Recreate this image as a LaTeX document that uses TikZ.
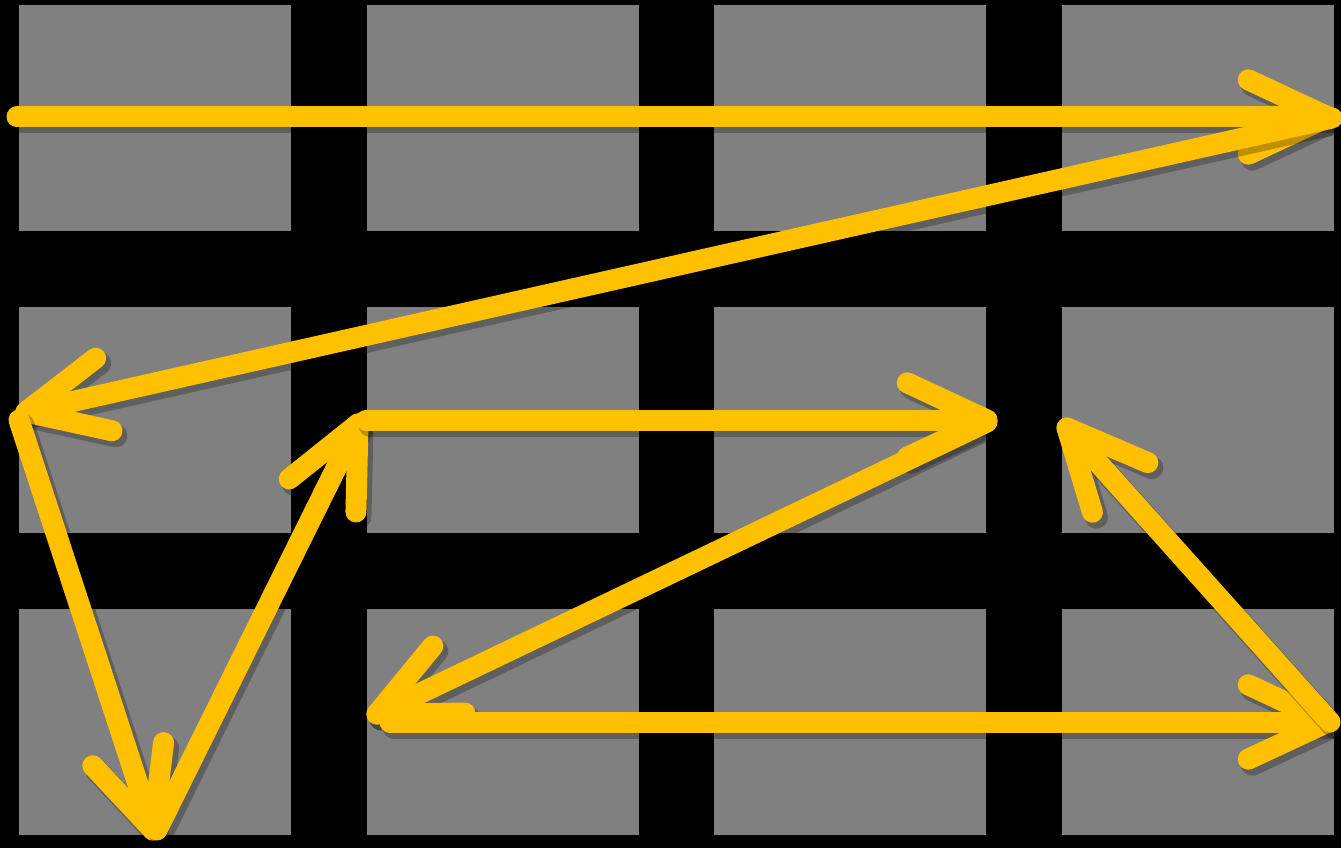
\documentclass[tikz,border=0pt]{standalone}
\usetikzlibrary{calc}
\definecolor{arrowyellow}{RGB}{255,192,0}
\definecolor{tilegray}{RGB}{128,128,128}
\tikzset{
  tile/.style={fill=tilegray, draw=none},
  arr/.style={draw=arrowyellow, line width=21pt, line cap=round, line join=round},
  shd/.style={draw=black, line width=23pt, line cap=round, line join=round, opacity=0.25,
              transform canvas={xshift=4pt, yshift=-5pt}},
}
\newcommand{\yarrow}[2]{%
  \draw[shd] (#1) -- (#2);
  \draw[shd] ($(#2)!88pt!25:(#1)$) -- (#2) -- ($(#2)!88pt!-25:(#1)$);
  \draw[arr] (#1) -- (#2);
  \draw[arr] ($(#2)!88pt!25:(#1)$) -- (#2) -- ($(#2)!88pt!-25:(#1)$);
}
\begin{document}
\begin{tikzpicture}[x=1pt, y=-1pt]
  \fill[black] (0,0) rectangle (1341,848);
  \useasboundingbox (0,0) rectangle (1341,848);
  % tiles
  \foreach \cx in {19,367,714,1062} {
    \foreach \cy in {5,307,609} {
      \fill[tile] (\cx,\cy) rectangle ++(272,226);
    }
  }
  % path points
  \coordinate (a0) at (17,117);
  \coordinate (a1) at (1328,117);
  \coordinate (b0) at (1332,118);
  \coordinate (b1) at (26,412);
  \coordinate (c0) at (19,420);
  \coordinate (c1) at (153,830);
  \coordinate (d0) at (157,830);
  \coordinate (d1) at (358,424);
  \coordinate (e0) at (366,420);
  \coordinate (e1) at (987,420);
  \coordinate (f0) at (987,422);
  \coordinate (f1) at (377,714);
  \coordinate (g0) at (390,722);
  \coordinate (g1) at (1328,722);
  \coordinate (h0) at (1330,722);
  \coordinate (h1) at (1067,428);
  \yarrow{a0}{a1}
  \yarrow{b0}{b1}
  \yarrow{c0}{c1}
  \yarrow{d0}{d1}
  \yarrow{e0}{e1}
  \yarrow{f0}{f1}
  \yarrow{g0}{g1}
  \yarrow{h0}{h1}
\end{tikzpicture}
\end{document}
